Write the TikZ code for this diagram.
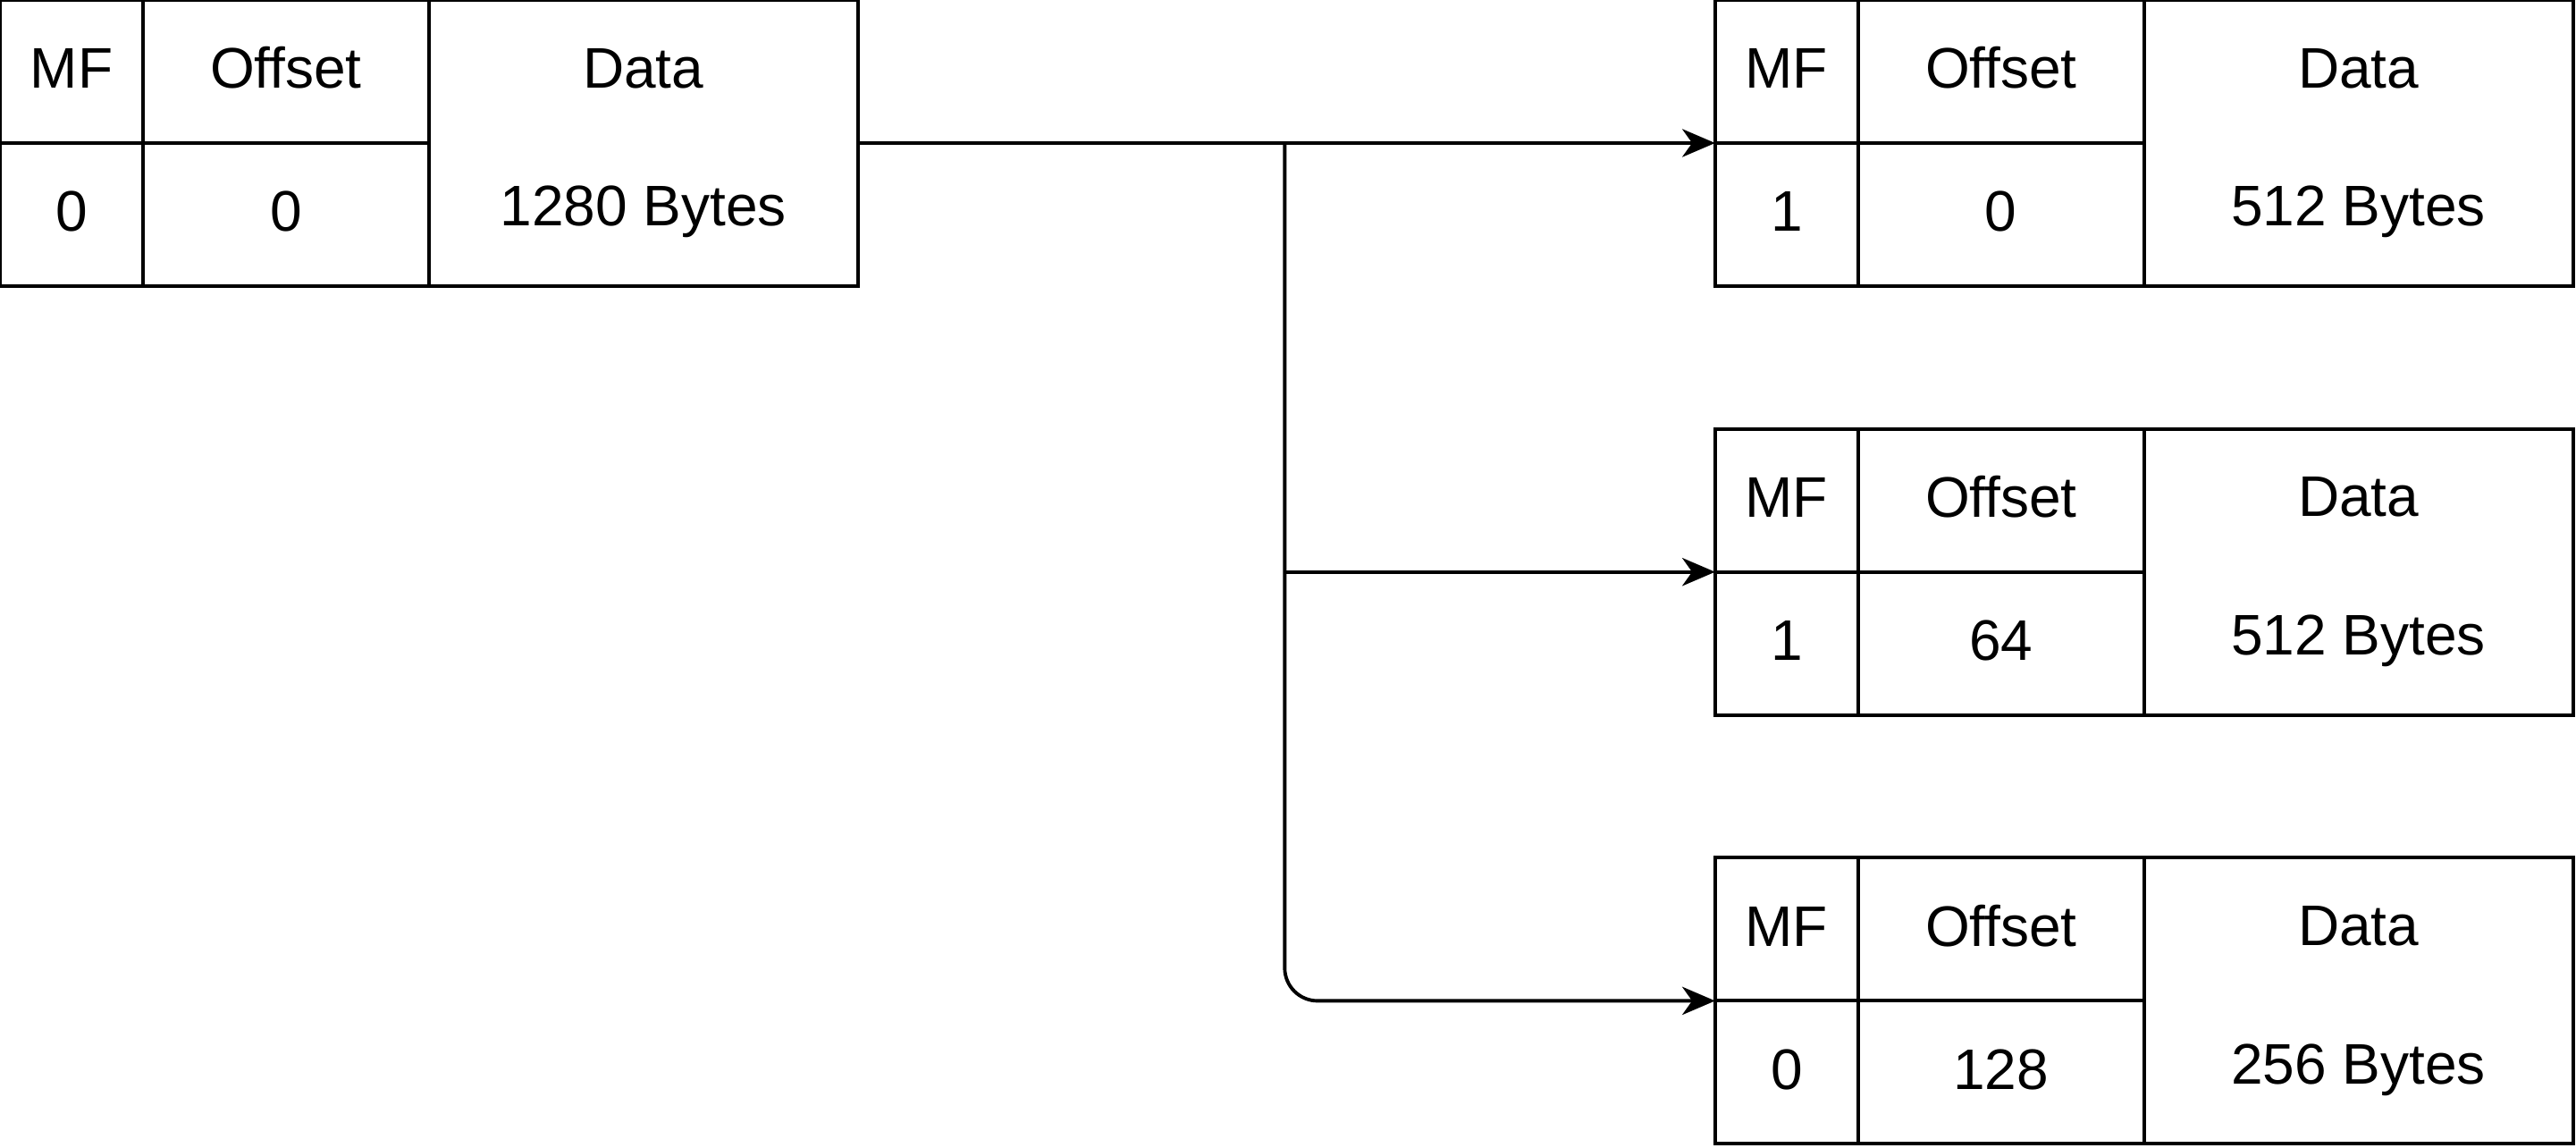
\documentclass[tikz,border=0pt]{standalone}
\usepackage{fontspec}
\setmainfont{Liberation Sans}
\usetikzlibrary{arrows.meta}
\tikzset{
  cell/.style={draw, line width=0.6pt, inner sep=0pt, outer sep=0pt,
    anchor=north west, minimum height=0.87cm,
    text height=0.72em, text depth=0.14em,
    font=\fontsize{9.9}{11.8}\selectfont},
  mfcell/.style={cell, minimum width=0.87cm},
  offcell/.style={cell, minimum width=1.74cm},
  datacell/.style={cell, minimum width=2.61cm, minimum height=1.74cm,
    text height=, text depth=,
    align=center, font=\fontsize{9.9}{23.9}\selectfont},
  arr/.style={-{Stealth[length=0.2cm, width=0.17cm, inset=0.06cm]}, line width=0.6pt}
}
\begin{document}
\begin{tikzpicture}[x=0.01cm, y=-0.01cm]
      \useasboundingbox (0,0) rectangle (1568,698.6);
      % original packet
      \node[mfcell] (amf) at (0,0) {MF};
      \node[offcell] (aoff) at (87,0) {Offset};
      \node[mfcell] (amfv) at (0,87) {0};
      \node[offcell] (aoffv) at (87,87) {0};
      \node[datacell] (adata) at (261,0) {Data\\1280 Bytes};
      % fragment 1
      \node[mfcell] (bmf) at (1044,0) {MF};
      \node[offcell] (boff) at (1131,0) {Offset};
      \node[mfcell] (bmfv) at (1044,87) {1};
      \node[offcell] (boffv) at (1131,87) {0};
      \node[datacell] (bdata) at (1305,0) {Data\\512 Bytes};
      % fragment 2
      \node[mfcell] (cmf) at (1044,261) {MF};
      \node[offcell] (coff) at (1131,261) {Offset};
      \node[mfcell] (cmfv) at (1044,348) {1};
      \node[offcell] (coffv) at (1131,348) {64};
      \node[datacell] (cdata) at (1305,261) {Data\\512 Bytes};
      % fragment 3
      \node[mfcell] (dmf) at (1044,522) {MF};
      \node[offcell] (doff) at (1131,522) {Offset};
      \node[mfcell] (dmfv) at (1044,609) {0};
      \node[offcell] (doffv) at (1131,609) {128};
      \node[datacell] (ddata) at (1305,522) {Data\\256 Bytes};
      % connectors
      \coordinate (split) at (782,87);
      \begin{scope}[arr]
        \draw (adata.east) to (bmf.south west);
        \draw (split |- cmf.south west) to (cmf.south west);
        \draw[rounded corners=0.2cm] (split) |- (dmf.south west);
      \end{scope}
    \end{tikzpicture}
\end{document}
